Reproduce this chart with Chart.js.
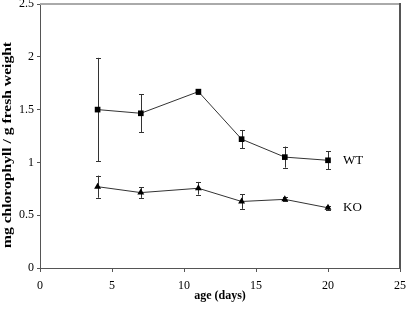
<!DOCTYPE html>
<html>
<head>
<meta charset="utf-8">
<script src="https://cdn.jsdelivr.net/npm/chart.js@4.4.0/dist/chart.umd.min.js"></script>
<style>
  html, body { margin: 0; padding: 0; background: #fff; }
  #wrap { width: 406px; height: 309px; position: relative; }
</style>
</head>
<body>
<div id="wrap"><canvas id="chlChart"></canvas></div>
<script>
// age (days)
const ages = [4, 7, 11, 14, 17, 20];
// WT series, mean and error
const wtValues = [1.50, 1.465, 1.67, 1.22, 1.05, 1.02];
const wtErrors = [0.49, 0.18, 0.02, 0.087, 0.10, 0.085];
// KO series
const koValues = [0.77, 0.714, 0.755, 0.63, 0.65, 0.57];
const koErrors = [0.105, 0.05, 0.06, 0.07, 0.02, 0.02];
const seriesNames = ['WT', 'KO'];
const yTicks = [0, 0.5, 1, 1.5, 2, 2.5];
const xTicks = [0, 5, 10, 15, 20, 25];
const yTitle = 'mg chlorophyll / g fresh weight';

const serif = '"Liberation Serif", "Times New Roman", serif';

function toPoints(xs, ys) {
    return xs.map((x, i) => ({ x: x, y: ys[i] }));
}

// vertical error bars with small caps
const errorBars = {
    id: 'errorBars',
    beforeDatasetsDraw(chart) {
        const ctx = chart.ctx;
        const xs = chart.scales.x, ys = chart.scales.y;
        ctx.save();
        ctx.strokeStyle = '#333';
        ctx.lineWidth = 1;
        chart.data.datasets.forEach(ds => {
            ds.data.forEach((p, i) => {
                const e = ds.errors[i];
                const px = Math.round(xs.getPixelForValue(p.x)) + 0.5;
                const top = ys.getPixelForValue(p.y + e);
                const bot = ys.getPixelForValue(p.y - e);
                ctx.beginPath();
                ctx.moveTo(px, top); ctx.lineTo(px, bot);
                ctx.moveTo(px - 2.5, Math.round(top) + 0.5); ctx.lineTo(px + 2.5, Math.round(top) + 0.5);
                ctx.moveTo(px - 2.5, Math.round(bot) + 0.5); ctx.lineTo(px + 2.5, Math.round(bot) + 0.5);
                ctx.stroke();
            });
        });
        ctx.restore();
    }
};

// frame, y title (stretched like the source) and series names
const extras = {
    id: 'extras',
    afterDraw(chart) {
        const ctx = chart.ctx;
        const a = chart.chartArea;
        ctx.save();
        ctx.strokeStyle = '#aaa';
        ctx.lineWidth = 2;
        ctx.beginPath();
        ctx.moveTo(a.left, a.top); ctx.lineTo(a.right, a.top);
        ctx.stroke();
        ctx.strokeStyle = '#555';
        ctx.beginPath();
        ctx.moveTo(a.right, a.top - 1); ctx.lineTo(a.right, a.bottom);
        ctx.stroke();

        // y axis title
        ctx.save();
        ctx.translate(8, (a.top + a.bottom) / 2 + 9);
        ctx.rotate(-Math.PI / 2);
        ctx.scale(1.3, 1);
        ctx.font = 'bold 12px ' + serif;
        ctx.fillStyle = '#000';
        ctx.textAlign = 'center';
        ctx.textBaseline = 'middle';
        ctx.fillText(yTitle, 0, 0);
        ctx.restore();

        ctx.font = '13px ' + serif;
        ctx.fillStyle = '#000';
        ctx.textAlign = 'left';
        ctx.textBaseline = 'middle';
        chart.data.datasets.forEach((ds, i) => {
            const last = ds.data[ds.data.length - 1];
            const px = chart.scales.x.getPixelForValue(last.x) + 15;
            const py = chart.scales.y.getPixelForValue(last.y);
            ctx.fillText(seriesNames[i], px, py);
        });
        ctx.restore();
    }
};

new Chart(document.getElementById('chlChart'), {
    type: 'scatter',
    data: {
        datasets: [{
            label: seriesNames[0],
            data: toPoints(ages, wtValues),
            errors: wtErrors,
            showLine: true,
            borderColor: '#333',
            borderWidth: 1,
            pointStyle: 'rect',
            pointRadius: 4,
            pointBackgroundColor: '#000',
            pointBorderColor: '#000',
            pointBorderWidth: 0
        }, {
            label: seriesNames[1],
            data: toPoints(ages, koValues),
            errors: koErrors,
            showLine: true,
            borderColor: '#333',
            borderWidth: 1,
            pointStyle: 'triangle',
            pointRadius: 4,
            pointBackgroundColor: '#000',
            pointBorderColor: '#000',
            pointBorderWidth: 0
        }]
    },
    options: {
        responsive: true,
        maintainAspectRatio: false,
        animation: false,
        layout: { padding: { top: 3, right: 6, left: 0, bottom: 0 } },
        plugins: {
            legend: { display: false },
            tooltip: { enabled: false }
        },
        scales: {
            x: {
                type: 'linear',
                min: 0, max: 25,
                afterBuildTicks: s => { s.ticks = xTicks.map(v => ({ value: v })); },
                afterFit: s => { s.height = 41; s.paddingLeft = 0; s.paddingRight = 0; },
                grid: { drawOnChartArea: false, tickLength: 4, color: '#555' },
                border: { color: '#555', width: 1 },
                ticks: { color: '#000', font: { family: serif, size: 12 }, padding: 7, callback: v => String(v) },
                title: {
                    display: true,
                    text: 'age (days)',
                    color: '#000',
                    font: { family: serif, size: 12, weight: 'bold' },
                    padding: { top: 0, bottom: 6 }
                }
            },
            y: {
                min: 0, max: 2.5,
                afterBuildTicks: s => { s.ticks = yTicks.map(v => ({ value: v })); },
                afterFit: s => { s.width = 40; s.paddingTop = 0; s.paddingBottom = 0; },
                grid: { drawOnChartArea: false, tickLength: 3, color: '#555' },
                border: { color: '#555', width: 1 },
                ticks: { color: '#000', font: { family: serif, size: 12 }, padding: 3, callback: v => String(v) }
            }
        }
    },
    plugins: [errorBars, extras]
});
</script>
</body>
</html>
